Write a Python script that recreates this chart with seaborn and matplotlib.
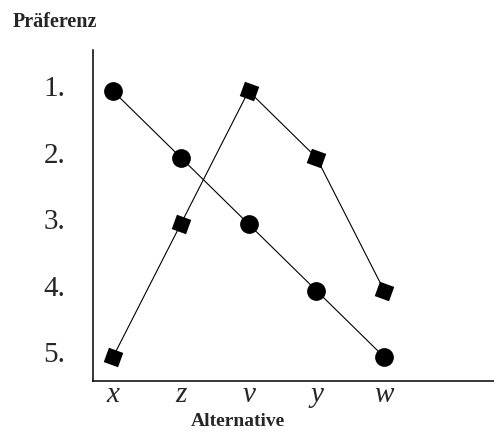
import pandas as pd
import seaborn as sns
import matplotlib.pyplot as plt
import matplotlib.transforms as mtrans

# alternatives and ranks
alternativen = ['x', 'z', 'v', 'y', 'w']
rang_kreis = [1, 2, 3, 4, 5]
rang_quadrat = [5, 3, 1, 2, 4]
rang_labels = ['1.', '2.', '3.', '4.', '5.']

df = pd.DataFrame({
    'Alternative': alternativen * 2,
    'Rang': rang_kreis + rang_quadrat,
    'Person': ['A'] * 5 + ['B'] * 5,
})

sns.set_style('white')
plt.rcParams['font.family'] = ['Liberation Serif', 'DejaVu Serif']

fig = plt.figure(figsize=(4.94, 4.32), dpi=100)
ax = fig.add_axes([93 / 494, 51 / 432, 401 / 494, 331 / 432])

sns.lineplot(data=df, x='Alternative', y='Rang', hue='Person', style='Person',
             palette=['black', 'black'], markers={'A': 'o', 'B': (4, 0, 25)},
             dashes=False, sort=False, linewidth=0.8, markersize=13.5,
             markeredgewidth=0, legend=False, ax=ax)
# rotated squares
ax.lines[1].set_markersize(15.5)

ax.set_xlim(-0.295, 5.62)
ax.set_ylim(5.36, 0.383)
ax.set_yticks(range(1, 6))
ax.set_yticklabels(rang_labels)
ax.tick_params(axis='y', length=0, pad=20, labelsize=21)
ax.tick_params(axis='x', length=0, pad=1, labelsize=21)
for t in ax.get_xticklabels():
    t.set_fontstyle('italic')
# rank labels sit a little above the marker rows
shift = mtrans.ScaledTranslation(0, 5 / 100, fig.dpi_scale_trans)
for t in ax.get_yticklabels():
    t.set_transform(t.get_transform() + shift)

ax.set_xlabel('')
ax.set_ylabel('')
for s in ['top', 'right']:
    ax.spines[s].set_visible(False)
for s in ['left', 'bottom']:
    ax.spines[s].set_color('black')
    ax.spines[s].set_linewidth(1.1)

fig.text(13 / 494, 1 - 27 / 432, 'Präferenz', fontsize=14.5, fontweight='bold', va='baseline')
fig.text(238 / 494, 1 - 426 / 432, 'Alternative', fontsize=14, fontweight='bold',
         ha='center', va='baseline')

fig.savefig('out.png', dpi=100)
